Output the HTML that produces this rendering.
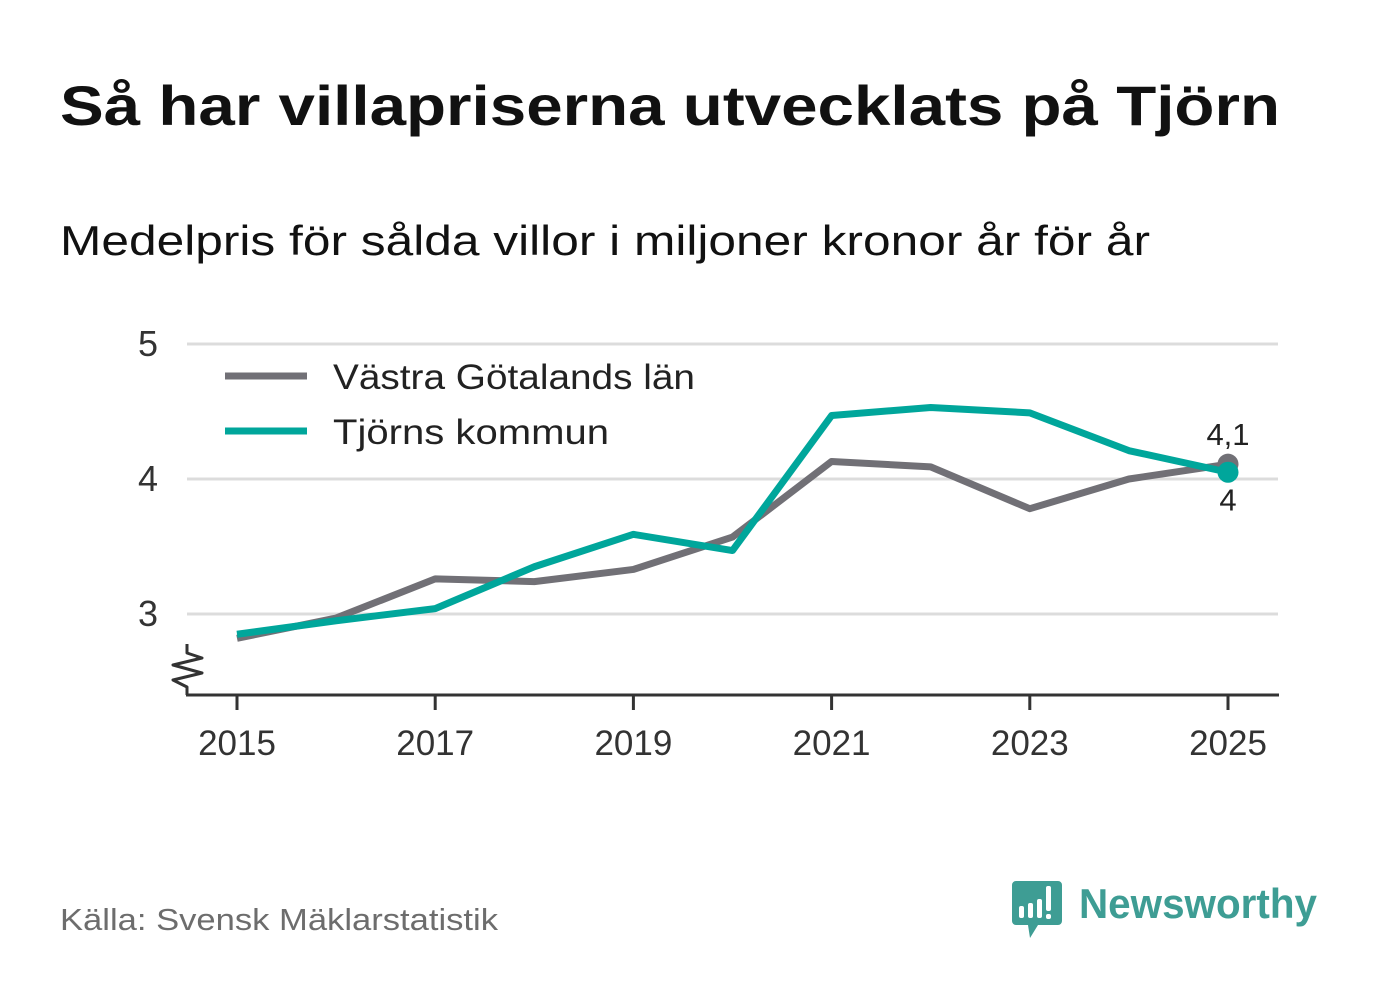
<!DOCTYPE html>
<html><head><meta charset="utf-8"><style>
html,body{margin:0;padding:0;background:#fff;}
svg{display:block;font-family:"Liberation Sans",sans-serif;}
</style></head><body>
<svg id="chart" width="1382" height="999" viewBox="0 0 1382 999">
<text x="60" y="125" font-size="56" font-weight="bold" fill="#111" textLength="1220" lengthAdjust="spacingAndGlyphs">Så har villapriserna utvecklats på Tjörn</text>
<text x="60" y="255" font-size="42" fill="#111" textLength="1090" lengthAdjust="spacingAndGlyphs">Medelpris för sålda villor i miljoner kronor år för år</text>
<g id="grid"></g>
<g id="yticks"></g>
<g id="xaxis"></g>
<g id="series"></g>
<g>
<rect x="212" y="348" width="500" height="112" fill="#fff"/>
<g>
<line x1="225" y1="376" x2="307" y2="376" stroke="#717076" stroke-width="7"/>
<text x="333" y="389" font-size="35" fill="#222" textLength="362" lengthAdjust="spacingAndGlyphs">Västra Götalands län</text></g>
<g>
<line x1="225" y1="431" x2="307" y2="431" stroke="#00a69b" stroke-width="7"/>
<text x="333" y="444" font-size="35" fill="#222" textLength="276" lengthAdjust="spacingAndGlyphs">Tjörns kommun</text></g>
</g>
<text x="60" y="930" font-size="31" fill="#6d6d6d" textLength="438" lengthAdjust="spacingAndGlyphs">Källa: Svensk Mäklarstatistik</text>
<g>
<path d="M1016 881 h42 a4 4 0 0 1 4 4 v36 a4 4 0 0 1 -4 4 h-20 l-8 13 l-2 -13 h-12 a4 4 0 0 1 -4 -4 v-36 a4 4 0 0 1 4 -4z" fill="#3e9d94"/>
<rect x="1019" y="906" width="5" height="12" rx="2" fill="#fff"/>
<rect x="1028" y="903" width="5" height="15" rx="2" fill="#fff"/>
<rect x="1037" y="899" width="5" height="19" rx="2" fill="#fff"/>
<rect x="1046" y="886" width="5" height="25" rx="2" fill="#fff"/>
<rect x="1046" y="914" width="5" height="5" rx="2" fill="#fff"/>
<text x="1079" y="918" font-size="42" font-weight="bold" fill="#3e9d94" textLength="238" lengthAdjust="spacingAndGlyphs">Newsworthy</text>
</g>
</svg>
<script>
const years=[2015,2016,2017,2018,2019,2020,2021,2022,2023,2024,2025];
const vastra=[2.82,2.97,3.26,3.24,3.33,3.57,4.13,4.09,3.78,4.0,4.11];
const tjorn=[2.85,2.95,3.04,3.35,3.59,3.47,4.47,4.53,4.49,4.21,4.05];
const yTicks=[3,4,5];
const xTicks=[2015,2017,2019,2021,2023,2025];
const lastLabels=["4,1","4"];
const NS="http://www.w3.org/2000/svg";
const X=y=>237+(y-2015)*99.1;
const Y=v=>479-(v-4)*135;
function mk(tag,attrs,parent){const e=document.createElementNS(NS,tag);for(const k in attrs)e.setAttribute(k,attrs[k]);parent.appendChild(e);return e;}
const grid=document.getElementById('grid'),yt=document.getElementById('yticks'),xa=document.getElementById('xaxis'),se=document.getElementById('series');
yTicks.forEach(t=>{
 const l=mk('line',{x1:187,x2:1278,y1:Y(t),y2:Y(t),stroke:'#dcdcdc','stroke-width':3},grid);
 
 
 const tx=mk('text',{x:158,y:Y(t)+12,'font-size':36,fill:'#333','text-anchor':'end'},yt);tx.textContent=t;
 
 
});
const br=mk('path',{d:'M187 644 v9 l15 5 l-29 7 l29 8 l-29 7 l14 7 v8',fill:'none',stroke:'#333','stroke-width':3,'stroke-linejoin':'round'},yt);


const ax=mk('line',{x1:186,x2:1279,y1:695,y2:695,stroke:'#333','stroke-width':3},xa);


xTicks.forEach(t=>{
 mk('line',{x1:X(t),x2:X(t),y1:695,y2:710,stroke:'#333','stroke-width':3},xa);
 const tx=mk('text',{x:X(t),y:755,'font-size':35,fill:'#333','text-anchor':'middle'},xa);tx.textContent=t;
 
 
});
function line(data,color,name){
 const p=mk('polyline',{points:data.map((v,i)=>X(years[i])+','+Y(v)).join(' '),fill:'none',stroke:color,'stroke-width':7,'stroke-linejoin':'round'},se);
 
 
 const c=mk('circle',{cx:X(years[years.length-1]),cy:Y(data[data.length-1]),r:10.5,fill:color},se);
 
 
}
line(vastra,'#717076','line-vastra-gotaland');
line(tjorn,'#00a69b','line-tjorn');
const lx=X(2025);
const a=mk('text',{x:lx,y:Y(vastra[10])-19,'font-size':31,fill:'#222','text-anchor':'middle'},se);a.textContent=lastLabels[0];


const b=mk('text',{x:lx,y:Y(tjorn[10])+38,'font-size':31,fill:'#222','text-anchor':'middle'},se);b.textContent=lastLabels[1];


</script>
</body></html>
